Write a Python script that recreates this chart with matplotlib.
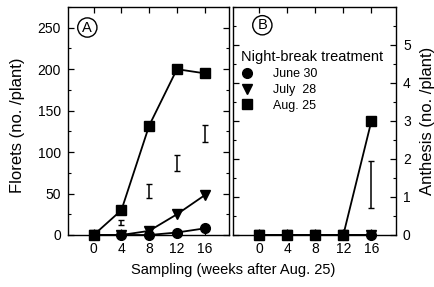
import matplotlib
matplotlib.use("Agg")
import matplotlib.pyplot as plt
from matplotlib.lines import Line2D
from matplotlib.ticker import MultipleLocator

plt.rcParams['font.family'] = ['Liberation Sans', 'DejaVu Sans']

weeks = [0, 4, 8, 12, 16]

# florets (no./plant), panel A
fl_jun30 = [0, 0, 0, 3, 8]
fl_jul28 = [0, 0, 5, 25, 48]
fl_aug25 = [0, 30, 132, 200, 195]
fl_bar_x = [4, 8, 12, 16]
fl_bar_lo = [12, 45, 77, 112]
fl_bar_hi = [18, 62, 97, 133]

# anthesis (no./plant), panel B
an_jun30 = [0, 0, 0, 0, 0]
an_jul28 = [0, 0, 0, 0, 0]
an_aug25 = [0, 0, 0, 0, 3]
an_bar_x = [16]
an_bar_lo = [0.7]
an_bar_hi = [1.95]

series = [('June 30', 'o'), ('July  28', 'v'), ('Aug. 25', 's')]

fig = plt.figure(figsize=(4.35, 2.87), dpi=100)
ax1 = fig.add_axes([68/435, 1-235/287, 161/435, 228/287])
ax2 = fig.add_axes([233/435, 1-235/287, 163/435, 228/287])


def panel(ax, ys, lo, hi, bx):
    for (lab, m), y in zip(series, ys):
        ax.plot(weeks, y, color='black', marker=m, ms=7, lw=1.3,
                clip_on=False, zorder=3)
    mid = [(a + b) / 2 for a, b in zip(lo, hi)]
    err = [(b - a) / 2 for a, b in zip(lo, hi)]
    ax.errorbar(bx, mid, yerr=err, fmt='none', ecolor='black',
                elinewidth=1.1, capsize=2.5, capthick=1.0)
    ax.set_xticks(weeks)
    ax.tick_params(which='both', direction='in', top=True, right=True,
                   labelsize=10)
    ax.tick_params(which='major', length=4, width=0.9)
    ax.tick_params(which='minor', length=2.5, width=0.8)
    ax.tick_params(axis='x', pad=5)
    ax.tick_params(axis='y', pad=5)
    for s in ax.spines.values():
        s.set_linewidth(1.0)


panel(ax1, [fl_jun30, fl_jul28, fl_aug25], fl_bar_lo, fl_bar_hi, fl_bar_x)
ax1.set_xlim(-3.7, 19.5)
ax1.set_ylim(0, 275)
ax1.set_yticks([0, 50, 100, 150, 200, 250])
ax1.yaxis.set_minor_locator(MultipleLocator(25))
ax1.set_ylabel('Florets (no. /plant)', fontsize=12)
ax1.yaxis.set_label_coords(-0.27, 0.48)

panel(ax2, [an_jun30, an_jul28, an_aug25], an_bar_lo, an_bar_hi, an_bar_x)
ax2.set_xlim(-3.7, 19.5)
ax2.set_ylim(0, 6.0)
ax2.set_yticks([0, 1, 2, 3, 4, 5])
ax2.yaxis.set_minor_locator(MultipleLocator(0.5))
ax2.yaxis.tick_right()
ax2.yaxis.set_label_position('right')
ax2.tick_params(which='both', left=True, right=True, direction='in')
ax2.set_ylabel('Anthesis (no. /plant)', fontsize=12)
ax2.yaxis.set_label_coords(1.145, 0.50)

handles = [Line2D([], [], color='black', marker=m, ls='none', ms=7)
           for _, m in series]
ax2.legend(handles, [lab for lab, _ in series], title='Night-break treatment',
           loc='upper left', bbox_to_anchor=(0.04, 0.815), frameon=False,
           fontsize=9, title_fontsize=10.5, handlelength=1.0,
           handletextpad=1.6, labelspacing=0.3, borderpad=0.1,
           borderaxespad=0.0, alignment='left')

for ax, t, xy in [(ax1, 'A', (0.12, 0.91)), (ax2, 'B', (0.18, 0.92))]:
    ax.text(xy[0], xy[1], t, transform=ax.transAxes, fontsize=10.5,
            ha='center', va='center',
            bbox=dict(boxstyle='circle,pad=0.18', fc='white', ec='black', lw=1.0))

fig.text(233/435, 1-270/287, 'Sampling (weeks after Aug. 25)', ha='center',
         va='center', fontsize=10.5)

fig.savefig('out.png', dpi=100)
